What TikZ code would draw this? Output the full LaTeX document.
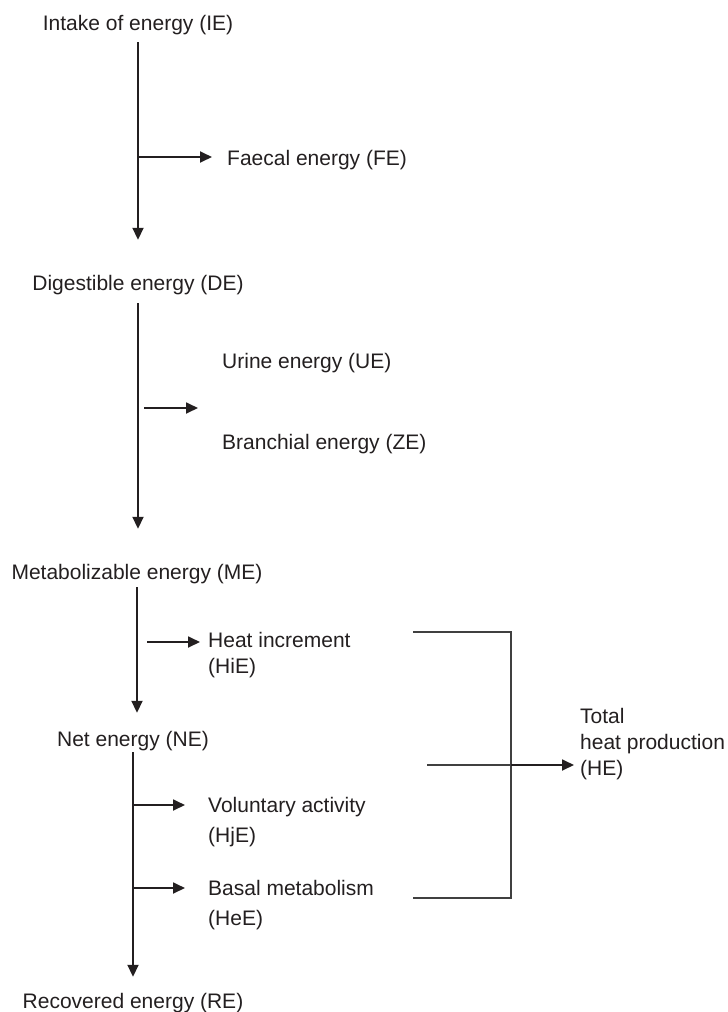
\documentclass[tikz,border=0pt]{standalone}
\usepackage{fontspec}
\setmainfont{Liberation Sans}
\usetikzlibrary{arrows.meta}
\definecolor{ink}{HTML}{231F20}
\tikzset{
  lbl/.style={inner sep=0pt, text height=15pt, text depth=5pt, font=\fontsize{21}{26}\selectfont, text=ink},
  mlblA/.style={inner sep=0pt, anchor=north west, align=left, text=ink, font=\fontsize{21}{26}\selectfont},
  mlblB/.style={inner sep=0pt, anchor=north west, align=left, text=ink, font=\fontsize{21}{30}\selectfont},
  arr/.style={draw=ink, line width=1.8pt, -{Triangle[length=12pt,width=11pt]}},
  brk/.style={draw=black!75, line width=1.3pt},
}
\begin{document}
\begin{tikzpicture}[x=1pt,y=-1pt]
\useasboundingbox (0,0) rectangle (728,1012);
% labels
\node[lbl, anchor=base] (IE) at (138,30) {Intake of energy (IE)};
\node[lbl, anchor=base west] (FE) at (227,165) {Faecal energy (FE)};
\node[lbl, anchor=base] (DE) at (138,290) {Digestible energy (DE)};
\node[lbl, anchor=base west] (UE) at (222,368) {Urine energy (UE)};
\node[lbl, anchor=base west] (ZE) at (222,449) {Branchial energy (ZE)};
\node[lbl, anchor=base] (ME) at (137,579) {Metabolizable energy (ME)};
\node[mlblA] (HiE) at (208,628.8) {\strut Heat increment\\\strut (HiE)};
\node[lbl, anchor=base] (NE) at (133,746) {Net energy (NE)};
\node[mlblB] (HjE) at (208,791) {\strut Voluntary activity\\\strut (HjE)};
\node[mlblB] (HeE) at (208,874) {\strut Basal metabolism\\\strut (HeE)};
\node[lbl, anchor=base] (RE) at (133,1008) {Recovered energy (RE)};
\node[mlblA] (HE) at (580,704.8) {\strut Total\\\strut heat production\\\strut (HE)};
% trunk arrows
\draw[arr] ([yshift=-7pt]IE.south) -- ([yshift=35pt]IE.south |- DE.north);
\draw[arr] ([yshift=-8pt]DE.south) -- ([yshift=35pt]DE.south |- ME.north);
\draw[arr] ([yshift=-3pt]ME.south) -- ([yshift=18pt]ME.south |- NE.north);
\draw[arr] ([yshift=-1pt]NE.south) -- ([yshift=16pt]NE.south |- RE.north);
% branch arrows
\coordinate (jFE) at (138,157);
\draw[arr, shorten >=15pt] (jFE) -- (jFE -| FE.west);
\coordinate (zA) at (144,408);
\coordinate (zB) at (198,408);
\draw[arr] (zA) -- (zB);
\coordinate (jHi) at (147,642);
\draw[arr, shorten >=8pt] (jHi) -- (jHi -| HiE.west);
\coordinate (jHj) at (133,805);
\draw[arr, shorten >=23pt] (jHj) -- (jHj -| HjE.west);
\coordinate (jHe) at (133,888);
\draw[arr, shorten >=23pt] (jHe) -- (jHe -| HeE.west);
% bracket to total heat production
\coordinate (bT) at (413,632);
\coordinate (bB) at (413,898);
\coordinate (bM) at (427,765);
\coordinate (bX) at (511,765);
\draw[brk] (bT) -- (bT -| bX) -- (bB -| bX) -- (bB);
\draw[brk] (bM) -- (bX);
\draw[arr, shorten >=6pt] (bX) -- (bX -| HE.west);
\end{tikzpicture}
\end{document}
